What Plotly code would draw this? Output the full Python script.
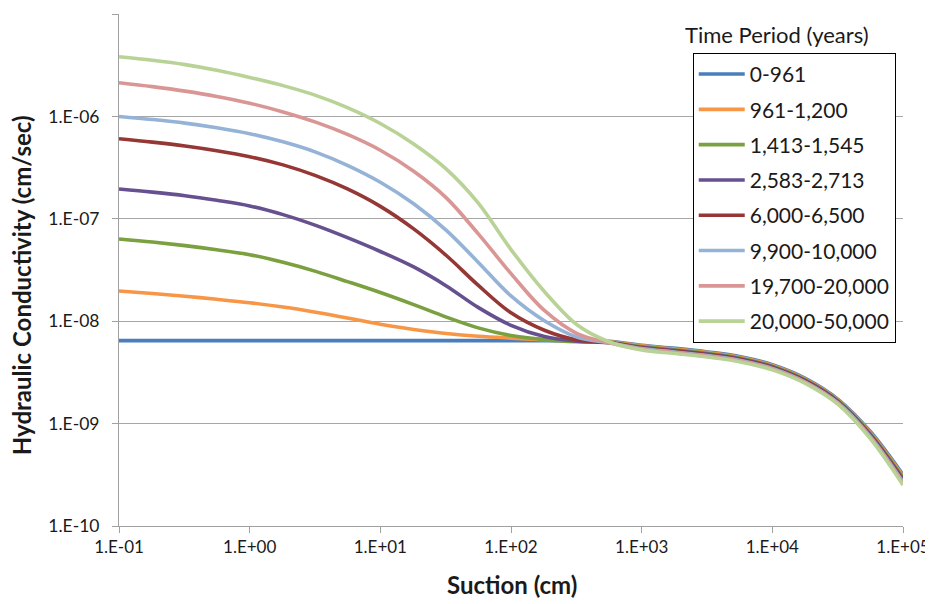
import plotly.graph_objects as go

# Suction (cm) - sample points, quarter-decade spacing
suction = [0.1, 0.18, 0.32, 0.56, 1, 1.8, 3.2, 5.6, 10, 18, 32, 56, 100, 180, 320, 560,
           1000, 1800, 3200, 5600, 10000, 18000, 32000, 56000, 100000]

# log10 of hydraulic conductivity (cm/sec)
log_k_0_961 = [-8.19, -8.19, -8.19, -8.19, -8.19, -8.19, -8.19, -8.19, -8.19, -8.19, -8.19, -8.19, -8.19,
               -8.19, -8.19, -8.195,
               -8.235, -8.265, -8.30, -8.345, -8.425, -8.56, -8.765, -9.075, -9.50]
log_k_961_1200 = [-7.705, -7.729, -7.756, -7.786, -7.82, -7.862, -7.912, -7.968, -8.03, -8.08, -8.12, -8.147, -8.165,
                  -8.18, -8.19, -8.20,
                  -8.241, -8.272, -8.307, -8.352, -8.432, -8.567, -8.772, -9.085, -9.514]
log_k_1413_1545 = [-7.197, -7.227, -7.262, -7.302, -7.35, -7.425, -7.513, -7.613, -7.72, -7.838, -7.96, -8.065, -8.14,
                   -8.18, -8.20, -8.205,
                   -8.248, -8.279, -8.314, -8.359, -8.439, -8.574, -8.779, -9.095, -9.529]
log_k_2583_2713 = [-6.709, -6.739, -6.774, -6.819, -6.874, -6.959, -7.064, -7.184, -7.319, -7.47, -7.655, -7.865, -8.04,
                   -8.15, -8.195, -8.21,
                   -8.254, -8.286, -8.321, -8.366, -8.446, -8.581, -8.786, -9.105, -9.543]
log_k_6000_6500 = [-6.218, -6.251, -6.289, -6.335, -6.393, -6.473, -6.578, -6.708, -6.878, -7.098, -7.358, -7.648, -7.918,
                   -8.088, -8.183, -8.208,
                   -8.261, -8.294, -8.329, -8.374, -8.454, -8.589, -8.794, -9.115, -9.557]
log_k_9900_10000 = [-6.0, -6.03, -6.065, -6.11, -6.168, -6.248, -6.348, -6.478, -6.643, -6.853, -7.113, -7.423, -7.753,
                    -7.995, -8.155, -8.21,
                    -8.267, -8.301, -8.336, -8.381, -8.461, -8.596, -8.801, -9.125, -9.571]
log_k_19700_20000 = [-5.671, -5.709, -5.753, -5.805, -5.871, -5.956, -6.056, -6.176, -6.33, -6.535, -6.795, -7.145, -7.535,
                     -7.895, -8.12, -8.21,
                     -8.274, -8.308, -8.343, -8.388, -8.468, -8.603, -8.808, -9.135, -9.586]
log_k_20000_50000 = [-5.417, -5.452, -5.494, -5.549, -5.619, -5.699, -5.794, -5.914, -6.069, -6.269, -6.514, -6.844, -7.30,
                     -7.71, -8.035, -8.20,
                     -8.28, -8.315, -8.35, -8.395, -8.475, -8.61, -8.815, -9.145, -9.60]

series_names = ["0-961", "961-1,200", "1,413-1,545", "2,583-2,713", "6,000-6,500",
                "9,900-10,000", "19,700-20,000", "20,000-50,000"]
series_values = [log_k_0_961, log_k_961_1200, log_k_1413_1545, log_k_2583_2713, log_k_6000_6500,
                 log_k_9900_10000, log_k_19700_20000, log_k_20000_50000]
colors = ["#4A7EBB", "#F79646", "#7AA03F", "#66508F", "#953735", "#95B3D7", "#D99694", "#B9D296"]

x_tick_vals = [0.1, 1, 10, 100, 1000, 10000, 100000]
x_tick_text = ["1.E-01", "1.E+00", "1.E+01", "1.E+02", "1.E+03", "1.E+04", "1.E+05"]
y_tick_vals = [1e-10, 1e-9, 1e-8, 1e-7, 1e-6, 1e-5]
y_tick_text = ["1.E-10", "1.E-09", "1.E-08", "1.E-07", "1.E-06", "1.E-05"]

FONT = "Lato"
TXT = "#1a1a1a"
fig = go.Figure()
for i, (name, vals, col) in enumerate(zip(series_names, series_values, colors)):
    fig.add_trace(go.Scatter(
        x=suction, y=[10 ** v for v in vals], name=name, mode="lines",
        line=dict(color=col, width=3.6, shape="spline", smoothing=1.0),
        legendgroup=f"g{i}",
    ))

fig.update_layout(
    width=933, height=604,
    margin=dict(l=111, r=38, t=6, b=86),
    paper_bgcolor="white", plot_bgcolor="white",
    font=dict(family=FONT, size=17, color=TXT),
    showlegend=True,
    legend=dict(
        x=0.7318, y=0.924, xanchor="left", yanchor="top",
        bgcolor="white", bordercolor="black", borderwidth=1,
        font=dict(family=FONT, size=21, color=TXT),
        traceorder="grouped", tracegroupgap=5, itemwidth=46,
    ),
    annotations=[
        dict(text="Time Period (years)", x=0.839, y=0.959, xref="paper", yref="paper",
             xanchor="center", yanchor="middle", showarrow=False,
             font=dict(family=FONT, size=22, color=TXT)),
        dict(text="<b>Suction (cm)</b>", x=0.501, y=-0.115, xref="paper", yref="paper",
             xanchor="center", yanchor="middle", showarrow=False,
             font=dict(family=FONT, size=24, color=TXT)),
        dict(text="<b>Hydraulic Conductivity (cm/sec)</b>", x=-0.124, y=0.47, xref="paper", yref="paper",
             xanchor="center", yanchor="middle", showarrow=False, textangle=-90,
             font=dict(family=FONT, size=24, color=TXT)),
    ],
)
fig.update_xaxes(
    type="log", range=[-1, 5], tickvals=x_tick_vals, ticktext=x_tick_text,
    showgrid=False, showline=True, linecolor="#A0A0A0", linewidth=1,
    ticks="outside", ticklen=6, tickcolor="#A0A0A0",
    tickfont=dict(family=FONT, size=17, color=TXT),
)
fig.update_yaxes(
    type="log", range=[-10, -4.9995], tickvals=y_tick_vals, ticktext=y_tick_text,
    showgrid=True, gridcolor="#A6A6A6", gridwidth=1,
    showline=True, linecolor="#A0A0A0", linewidth=1,
    ticks="outside", ticklen=6, tickcolor="#A0A0A0", ticklabelstandoff=9,
    tickfont=dict(family=FONT, size=17.5, color=TXT),
)

fig.write_html("out.html")
